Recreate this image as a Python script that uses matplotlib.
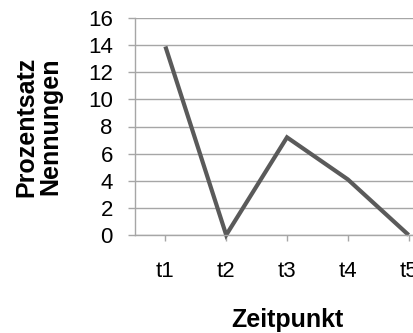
import matplotlib.pyplot as plt

plt.rcParams["font.family"] = ["Liberation Sans", "DejaVu Sans"]

zeitpunkte = ["t1", "t2", "t3", "t4", "t5"]
prozent = [13.9, 0.0, 7.2, 4.1, 0.0]
y_ticks = [0, 2, 4, 6, 8, 10, 12, 14, 16]

GRID = "#a6a6a6"
LINE = "#5a5a5a"


def main() -> None:
    fig = plt.figure(figsize=(4.13, 3.33), dpi=100)
    # axis runs past the right edge of the figure, so t5 sits at the border
    ax = fig.add_axes([135 / 413, 1 - 235 / 333, 304 / 413, 217 / 333])

    x = list(range(len(zeitpunkte)))
    ax.plot(x, prozent, color=LINE, linewidth=3.0,
            solid_joinstyle="miter", solid_capstyle="butt", clip_on=False)

    ax.set_xlim(-0.5, len(zeitpunkte) - 0.5)
    ax.set_ylim(0, 16)
    ax.set_yticks(y_ticks)
    ax.set_xticks(x)
    ax.set_xticklabels(zeitpunkte)

    ax.grid(axis="y", color=GRID, linewidth=1.0)
    ax.set_axisbelow(True)
    for side in ("top", "right"):
        ax.spines[side].set_visible(False)
    for side in ("left", "bottom"):
        ax.spines[side].set_color(GRID)
        ax.spines[side].set_linewidth(1.0)

    ax.tick_params(axis="y", direction="out", length=5, width=1, color=GRID,
                   pad=11, labelsize=16)
    ax.tick_params(axis="x", direction="out", length=4, width=1, color=GRID,
                   pad=15, labelsize=16)

    ax.set_ylabel("Prozentsatz\nNennungen", fontsize=18, fontweight="bold",
                  linespacing=1.0)
    ax.yaxis.label.set_va("center")
    ax.yaxis.set_label_coords((38 - 135) / 304, 0.5)

    ax.set_xlabel("Zeitpunkt", fontsize=18, fontweight="bold")
    ax.xaxis.label.set_va("center")
    ax.xaxis.set_label_coords(0.5, (235 - 320) / 217)

    fig.savefig("out.png", dpi=100)


if __name__ == "__main__":
    main()
